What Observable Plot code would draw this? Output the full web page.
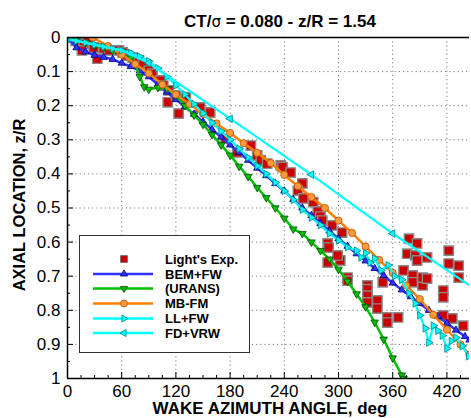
<!DOCTYPE html>
<html>
<head>
<meta charset="utf-8">
<script src="https://cdn.jsdelivr.net/npm/d3@7"></script>
<script src="https://cdn.jsdelivr.net/npm/@observablehq/plot@0.6"></script>
<style>
  body { margin: 0; background: #fff; }
  #chart svg { display: block; }
</style>
</head>
<body>
<div id="chart"></div>
<script>
// Wake geometry: axial location of the tip vortex vs. wake azimuth angle
const titleMain = "CT/";
const titleRest = " = 0.080 - z/R = 1.54";
const xTitle = "WAKE AZIMUTH ANGLE, deg";
const yTitle = "AXIAL LOCATION, z/R";
const seriesNames = ["Light's Exp.", "BEM+FW", "(URANS)", "MB-FM", "LL+FW", "FD+VRW"];

// Axis ticks
const xMajor = [0, 60, 120, 180, 240, 300, 360, 420];
const xMinor = [15, 30, 45, 75, 90, 105, 135, 150, 165, 195, 210, 225, 255, 270, 285, 315, 330, 345, 375, 390, 405, 435];
const yMajor = [0, 0.1, 0.2, 0.3, 0.4, 0.5, 0.6, 0.7, 0.8, 0.9, 1];
const yMinor = [0.05, 0.15, 0.25, 0.35, 0.45, 0.55, 0.65, 0.75, 0.85, 0.95];
const xGrid = [60, 120, 180, 240, 300, 360, 420];
const yGrid = [0.1, 0.2, 0.3, 0.4, 0.5, 0.6, 0.7, 0.8, 0.9];

// Light's experiment
const expDeg = [9, 18, 22, 16, 29, 33, 40, 46, 57, 61, 66, 72, 79, 84, 90, 94, 103, 106, 112, 111, 123, 120, 131, 147, 158,
  175, 188, 203, 210, 214, 221, 236, 238, 247, 260, 255, 261, 272, 277, 280, 282, 293, 304, 288, 289, 302, 299, 288, 310, 310,
  332, 332, 349, 332, 343, 332, 343, 354, 366, 354,
  378, 387, 376, 385, 387, 398, 422, 422, 433, 433, 372, 382, 382, 393, 393, 398, 416, 416, 416, 426, 438];
const expZ = [0.01, 0.018, 0.003, 0.038, 0.03, 0.062, 0.032, 0.038, 0.038, 0.044, 0.053, 0.059, 0.067, 0.077, 0.097, 0.106, 0.126, 0.141, 0.155, 0.19, 0.223, 0.17, 0.176, 0.205, 0.22,
  0.297, 0.337, 0.317, 0.346, 0.36, 0.37, 0.375, 0.38, 0.396, 0.428, 0.449, 0.472, 0.483, 0.51, 0.525, 0.537, 0.551, 0.572, 0.604, 0.616, 0.654, 0.639, 0.66, 0.704, 0.713,
  0.727, 0.738, 0.718, 0.757, 0.771, 0.777, 0.795, 0.821, 0.821, 0.836,
  0.59, 0.604, 0.634, 0.639, 0.654, 0.645, 0.625, 0.663, 0.669, 0.704, 0.683, 0.698, 0.718, 0.727, 0.704, 0.707, 0.742, 0.762, 0.815, 0.824, 0.845];

// BEM+FW
const bemDeg = [0, 10, 20, 30, 40, 50, 60, 70, 80, 90, 100, 110, 120, 130, 140, 150, 160, 170, 180, 190, 200, 210, 220, 230, 240,
  250, 260, 270, 280, 290, 300, 310, 320, 330, 340, 350, 360, 370, 380, 390, 400, 410, 420, 430, 440, 445];
const bemZ = [0, 0.03, 0.042, 0.052, 0.058, 0.064, 0.075, 0.085, 0.098, 0.115, 0.138, 0.16, 0.182, 0.203, 0.225, 0.247, 0.27, 0.292, 0.315, 0.337, 0.36, 0.383, 0.405, 0.428, 0.45,
  0.475, 0.5, 0.522, 0.545, 0.567, 0.59, 0.612, 0.634, 0.655, 0.677, 0.698, 0.72, 0.74, 0.76, 0.78, 0.8, 0.818, 0.838, 0.858, 0.877, 0.887];

// URANS
const uransDeg = [0, 10, 20, 30, 40, 50, 60, 70, 75, 80, 85, 90, 100, 110, 120, 130, 140, 150, 160, 170, 180, 190, 200, 210, 220,
  230, 240, 250, 260, 270, 280, 290, 300, 310, 320, 330, 340, 350, 360, 370, 372];
const uransZ = [0, 0.008, 0.015, 0.023, 0.03, 0.038, 0.047, 0.06, 0.08, 0.115, 0.145, 0.152, 0.147, 0.15, 0.17, 0.2, 0.228, 0.255, 0.285, 0.315, 0.345, 0.378, 0.408, 0.44, 0.47,
  0.5, 0.53, 0.562, 0.575, 0.6, 0.625, 0.65, 0.68, 0.715, 0.752, 0.79, 0.835, 0.885, 0.94, 0.99, 1.0];

// MB-FM
const mbDeg = [28, 45, 60, 75, 90, 105, 120, 135, 150, 165, 180, 195, 210, 225, 240, 255, 270, 285, 300, 315, 330, 345, 360, 375, 390, 405, 420, 435, 445];
const mbZ = [0, 0.025, 0.05, 0.078, 0.105, 0.138, 0.167, 0.195, 0.224, 0.252, 0.28, 0.31, 0.338, 0.368, 0.403, 0.436, 0.468, 0.5, 0.537, 0.573, 0.613, 0.652, 0.69, 0.727, 0.767, 0.813, 0.857, 0.9, 0.93];

// LL+FW
const llDeg = [0, 10, 20, 30, 40, 50, 60, 70, 80, 90, 100, 110, 120, 130, 140, 150, 160, 170, 180, 190, 200, 210, 220, 230, 240,
  250, 260, 270, 280, 290, 300, 310, 320, 325, 330, 335, 340, 347, 355, 362, 370, 378, 385, 390, 396, 400, 405, 410, 415, 420, 425, 430, 437, 444];
const llZ = [0.005, 0.01, 0.015, 0.021, 0.027, 0.033, 0.038, 0.045, 0.056, 0.07, 0.09, 0.115, 0.14, 0.167, 0.195, 0.222, 0.25, 0.275, 0.3, 0.326, 0.352, 0.376, 0.4, 0.425, 0.45,
  0.476, 0.505, 0.528, 0.55, 0.575, 0.595, 0.615, 0.625, 0.645, 0.632, 0.66, 0.648, 0.683, 0.668, 0.7, 0.71, 0.75, 0.78, 0.815, 0.853, 0.895, 0.845, 0.86, 0.874, 0.912, 0.89, 0.88, 0.905, 0.935];

// FD+VRW
const fdDeg = [0, 30, 60, 90, 180, 270, 360, 445];
const fdZ = [0.005, 0.021, 0.038, 0.075, 0.238, 0.402, 0.575, 0.727];

const table = (xs, zs) => xs.map((deg, i) => ({deg, z: zs[i]}));
const exp = table(expDeg, expZ);
const bem = table(bemDeg, bemZ);
const urans = table(uransDeg, uransZ);
const mb = table(mbDeg, mbZ);
const ll = table(llDeg, llZ);
const fd = table(fdDeg, fdZ);

// Triangle symbols pointing down / left / right
const SQRT3 = Math.sqrt(3);
function triangle(dir) {
  return {
    draw(ctx, size) {
      const y = -Math.sqrt(size / (SQRT3 * 3));
      let pts = [[0, 2 * y], [-SQRT3 * y, -y], [SQRT3 * y, -y]];
      if (dir === "down") pts = pts.map(([a, b]) => [a, -b]);
      if (dir === "left") pts = pts.map(([a, b]) => [b, a]);
      if (dir === "right") pts = pts.map(([a, b]) => [-b, a]);
      ctx.moveTo(pts[0][0], pts[0][1]);
      ctx.lineTo(pts[1][0], pts[1][1]);
      ctx.lineTo(pts[2][0], pts[2][1]);
      ctx.closePath();
    }
  };
}
const triDown = triangle("down"), triLeft = triangle("left"), triRight = triangle("right");

const C = {
  exp: "#cc0000", expEdge: "#8a8a8a",
  bem: "#3333ff", bemEdge: "#00007a",
  urans: "#00c000", uransEdge: "#004a00",
  mb: "#ff8000", mbFill: "#ff9a3c", mbEdge: "#b35400",
  cyan: "#00ffff", cyanEdge: "#008080"
};

const font = "'Liberation Sans', Arial, Helvetica, sans-serif";
const yFmt = d => d === 0 ? "0" : d === 1 ? "1" : d.toFixed(1);

const chart = Plot.plot({
  width: 471,
  height: 418,
  marginLeft: 67,
  marginRight: 2,
  marginTop: 37,
  marginBottom: 40,
  style: {fontFamily: font, fontSize: "17px", background: "#fff", color: "#000"},
  x: {domain: [0, 445]},
  y: {domain: [0, 1], reverse: true},
  marks: [
    Plot.gridX(xGrid, {stroke: "#7a7a7a", strokeOpacity: 1, strokeDasharray: "1.2,3"}),
    Plot.gridY(yGrid, {stroke: "#7a7a7a", strokeOpacity: 1, strokeDasharray: "1.2,3"}),

    Plot.dot(exp, {x: "deg", y: "z", symbol: "square", r: 5.3, fill: C.exp, stroke: C.expEdge, strokeWidth: 1.4, clip: true}),

    Plot.line(bem, {x: "deg", y: "z", stroke: C.bem, strokeWidth: 2.5, clip: true}),
    Plot.dot(bem, {x: "deg", y: "z", symbol: "triangle", r: 2.7, fill: C.bem, stroke: C.bemEdge, strokeWidth: 0.8, clip: true}),

    Plot.line(urans, {x: "deg", y: "z", stroke: C.urans, strokeWidth: 2.5, clip: true}),
    Plot.dot(urans, {x: "deg", y: "z", symbol: triDown, r: 2.8, fill: C.urans, stroke: C.uransEdge, strokeWidth: 0.8, clip: true}),

    Plot.line(mb, {x: "deg", y: "z", stroke: C.mb, strokeWidth: 2.5, clip: true}),
    Plot.dot(mb, {x: "deg", y: "z", r: 3.6, fill: C.mbFill, stroke: C.mbEdge, strokeWidth: 0.8, clip: true}),

    Plot.line(ll, {x: "deg", y: "z", stroke: C.cyan, strokeWidth: 2.3, clip: true}),
    Plot.dot(ll, {x: "deg", y: "z", symbol: triRight, r: 2.8, fill: C.cyan, stroke: C.cyanEdge, strokeWidth: 0.8, clip: true}),

    Plot.line(fd, {x: "deg", y: "z", stroke: C.cyan, strokeWidth: 2.3, clip: true}),
    Plot.dot(fd.filter(d => d.deg % 90 === 0), {x: "deg", y: "z", symbol: triLeft, r: 2.8, fill: C.cyan, stroke: C.cyanEdge, strokeWidth: 0.8, clip: true}),

    Plot.ruleX([0], {stroke: "#000", strokeWidth: 1.5}),
    Plot.ruleY([0, 1], {stroke: "#000", strokeWidth: 1.5}),

    Plot.axisX(xMajor, {anchor: "bottom", tickSize: -6, tickPadding: 12, label: null, fontSize: 17}),
    Plot.axisX(xMinor, {anchor: "bottom", tickSize: -3, tickFormat: () => "", label: null}),
    Plot.axisY(yMajor, {anchor: "left", tickSize: -6, tickPadding: 13, tickFormat: yFmt, label: null, fontSize: 17}),
    Plot.axisY(yMinor, {anchor: "left", tickSize: -3, tickFormat: () => "", label: null})
  ]
});

document.getElementById("chart").appendChild(chart);

// Titles
const svg = d3.select(chart);
const title = svg.append("text")
  .attr("x", 280).attr("y", 27)
  .attr("text-anchor", "middle")
  .style("font-family", font).style("font-size", "17px").style("font-weight", "bold");
title.append("tspan").text(titleMain);
title.append("tspan").style("font-weight", "normal").style("font-family", "'DejaVu Sans', sans-serif").style("font-size", "15px").text("\u03c3");
title.append("tspan").text(titleRest);

svg.append("text")
  .attr("x", 270).attr("y", 414)
  .attr("text-anchor", "middle")
  .style("font-family", font).style("font-size", "17px").style("font-weight", "bold")
  .text(xTitle);

svg.append("text")
  .attr("transform", "translate(25,205) rotate(-90)")
  .attr("text-anchor", "middle")
  .style("font-family", font).style("font-size", "16.5px").style("font-weight", "bold")
  .text(yTitle);

// Legend
const lg = svg.append("g");
lg.append("rect").attr("x", 79.5).attr("y", 235.5).attr("width", 170).attr("height", 117)
  .attr("fill", "#fff").attr("stroke", "#333").attr("stroke-width", 1);
const rowY = [259, 274, 288.5, 303.5, 318.5, 333];
const styles = [
  {line: null, sym: d3.symbolSquare, size: 45, fill: C.exp, edge: "#555"},
  {line: C.bem, sym: d3.symbolTriangle, size: 22, fill: C.bem, edge: C.bemEdge},
  {line: C.urans, sym: triDown, size: 22, fill: C.urans, edge: C.uransEdge},
  {line: C.mb, sym: d3.symbolCircle, size: 38, fill: C.mbFill, edge: C.mbEdge},
  {line: C.cyan, sym: triRight, size: 22, fill: C.cyan, edge: C.cyanEdge},
  {line: C.cyan, sym: triLeft, size: 22, fill: C.cyan, edge: C.cyanEdge}
];
seriesNames.forEach((name, i) => {
  const s = styles[i], y = rowY[i];
  if (s.line) {
    lg.append("line").attr("x1", 93).attr("x2", 153).attr("y1", y).attr("y2", y)
      .attr("stroke", s.line).attr("stroke-width", 2.5);
  }
  lg.append("path").attr("transform", `translate(124,${y})`)
    .attr("d", d3.symbol(s.sym, s.size)())
    .attr("fill", s.fill).attr("stroke", s.edge).attr("stroke-width", 0.8);
  lg.append("text").attr("x", 165).attr("y", y).attr("dy", "0.36em")
    .attr("text-anchor", "start")
    .style("font-family", font).style("font-size", "13px").style("font-weight", "bold")
    .text(name);
});
</script>
</body>
</html>
